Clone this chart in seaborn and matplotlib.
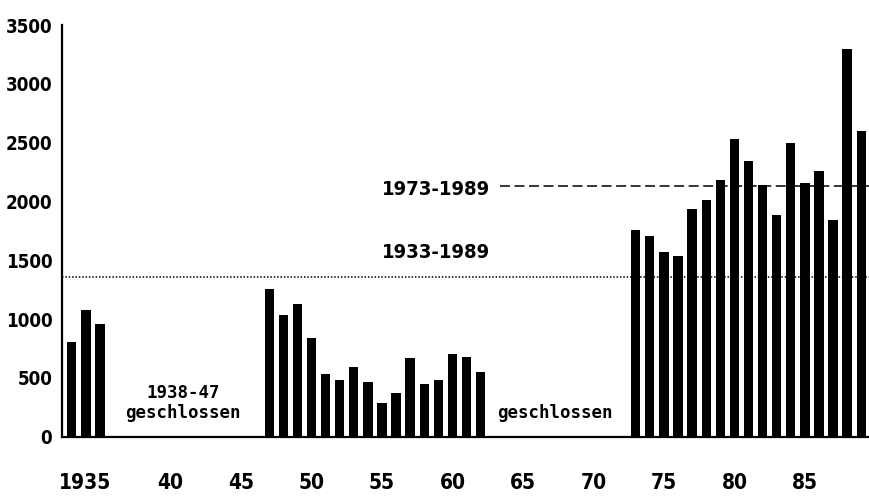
import matplotlib
matplotlib.use("Agg")
import matplotlib.pyplot as plt
import matplotlib.transforms as mtransforms
import seaborn as sns
import pandas as pd

years_a = [1933, 1934, 1935]
values_a = [808, 1077, 958]
years_b = list(range(1947, 1963))
values_b = [1253, 1035, 1126, 842, 530, 482, 593, 462, 284, 374, 667, 448, 482, 700, 678, 548]
years_c = list(range(1973, 1990))
values_c = [1758, 1707, 1573, 1537, 1939, 2010, 2180, 2529, 2344, 2138, 1883, 2495, 2155, 2262, 1840, 3294, 2600]

mean_1973_1989 = 2132
mean_1933_1989 = 1360

xticks = [1935, 1940, 1945, 1950, 1955, 1960, 1965, 1970, 1975, 1980, 1985]
xtick_labels = ["1935", "40", "45", "50", "55", "60", "65", "70", "75", "80", "85"]
yticks = [0, 500, 1000, 1500, 2000, 2500, 3000, 3500]

df = pd.DataFrame({
    "year": years_a + years_b + years_c,
    "value": values_a + values_b + values_c,
})

sns.set_style("white")
narrow = ["DejaVu Sans Condensed", "Liberation Sans Narrow", "DejaVu Sans"]
mono = ["DejaVu Sans Mono", "DejaVu Sans"]
plt.rcParams["font.family"] = narrow
plt.rcParams["font.stretch"] = "condensed"
plt.rcParams["text.color"] = "black"

fig = plt.figure(figsize=(8.69, 4.97), dpi=100)
ax = fig.add_axes([0.0713, 0.1213, 0.9287, 0.828])

sns.barplot(data=df, x="year", y="value", native_scale=True, width=0.66,
            color="black", saturation=1, edgecolor="black", linewidth=0, ax=ax)

ax.set_xlim(1932.3, 1989.55)
ax.set_ylim(0, 3500)

ax.axhline(mean_1933_1989, color="black", linestyle=(0, (1, 1.2)), linewidth=1.1)
ax.hlines(mean_1973_1989, 1963.35, 1989.55, color="black", linestyle=(0, (6.5, 3)), linewidth=1.1)

ax.text(1962.65, 2105, "1973-1989", ha="right", va="center", color="black",
        fontsize=14.5, fontweight="bold", family=narrow, fontstretch="condensed")
ax.text(1962.65, 1570, "1933-1989", ha="right", va="center", color="black",
        fontsize=14.5, fontweight="bold", family=narrow, fontstretch="condensed")

ax.text(1940.9, 370, "1938-47", ha="center", va="center", color="black",
        fontsize=12.5, fontweight="bold", family=mono, fontstretch="normal")
ax.text(1940.9, 200, "geschlossen", ha="center", va="center", color="black",
        fontsize=12.5, fontweight="bold", family=mono, fontstretch="normal")
ax.text(1967.25, 200, "geschlossen", ha="center", va="center", color="black",
        fontsize=12.5, fontweight="bold", family=mono, fontstretch="normal")

ax.set_xticks(xticks)
ax.set_xticklabels(xtick_labels)
ax.set_yticks(yticks)
ax.set_yticklabels([str(v) for v in yticks])

for s in ["top", "right"]:
    ax.spines[s].set_visible(False)
for s in ["left", "bottom"]:
    ax.spines[s].set_linewidth(1.6)
    ax.spines[s].set_color("black")

ax.tick_params(axis="x", direction="out", length=18, width=1.4, pad=8,
               labelsize=15, colors="black")
ax.tick_params(axis="y", direction="inout", length=8, width=1.4, pad=3,
               labelsize=13.5, colors="black")
for lab in ax.get_xticklabels() + ax.get_yticklabels():
    lab.set_fontweight("bold")
    lab.set_fontstretch("condensed")

# first x label sits slightly left of its tick in the reference
first = ax.get_xticklabels()[0]
first.set_transform(first.get_transform() +
                    mtransforms.ScaledTranslation(-0.15, 0, fig.dpi_scale_trans))

ax.set_xlabel("")
ax.set_ylabel("")

fig.savefig("out.png", dpi=100, facecolor="white")
